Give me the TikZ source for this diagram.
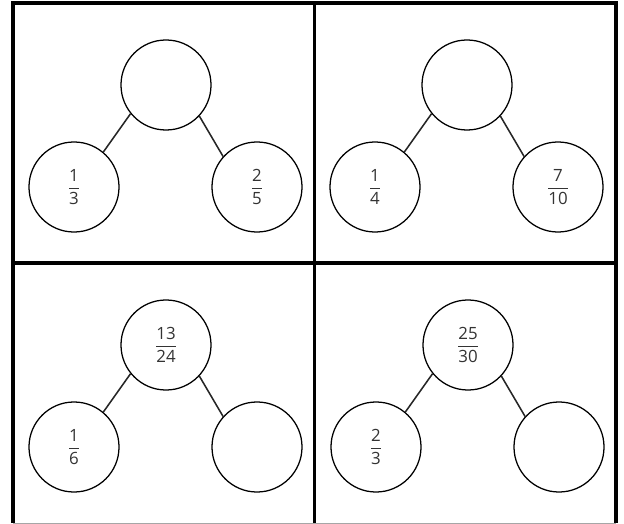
\documentclass[tikz,border=0pt]{standalone}
\usepackage{amsmath}
\usepackage{fontspec}
\setmainfont{Open Sans}
\newcommand{\bondfrac}[2]{$\genfrac{}{}{0.8pt}{0}{\text{#1}}{\text{#2}}$}
\begin{document}
\begin{tikzpicture}[x=0.025cm, y=-0.025cm,
	bubble/.style={draw, circle, line width=0.9pt, minimum size=2.25cm, inner sep=0pt, text=black!80, font=\fontsize{12}{14}\selectfont},
	bond/.style={line width=1.1pt, black!85},
	frame/.style={line width=2.2pt}]
	
	\useasboundingbox (0,0) rectangle (624,524);
	
	% Khung chia 4 ô
	\draw[frame] (13,523) -- (13,3) -- (616,3) -- (616,523);
	\draw[frame] (314.5,3) -- (314.5,523);
	\draw[frame] (13,263) -- (616,263);
	\draw[gray!70, thin] (13,523.5) -- (616,523.5);
	
	% Sơ đồ tách - gộp trong mỗi ô
	\foreach \i/\ox/\oy/\t/\l/\r in {
		a/13/3/{}/{\bondfrac{1}{3}}/{\bondfrac{2}{5}},
		b/314/3/{}/{\bondfrac{1}{4}}/{\bondfrac{7}{10}},
		c/13/263/{\bondfrac{13}{24}}/{\bondfrac{1}{6}}/{},
		d/315/263/{\bondfrac{25}{30}}/{\bondfrac{2}{3}}/{}} {
		\node[bubble] (top\i) at (\ox+153,\oy+82) {\t};
		\node[bubble] (left\i) at (\ox+61,\oy+184) {\l};
		\node[bubble] (right\i) at (\ox+244,\oy+184) {\r};
		\draw[bond] (top\i.219) -- (left\i.50);
		\draw[bond] (top\i.317) -- (right\i.138);
	}
	
\end{tikzpicture}
\end{document}
